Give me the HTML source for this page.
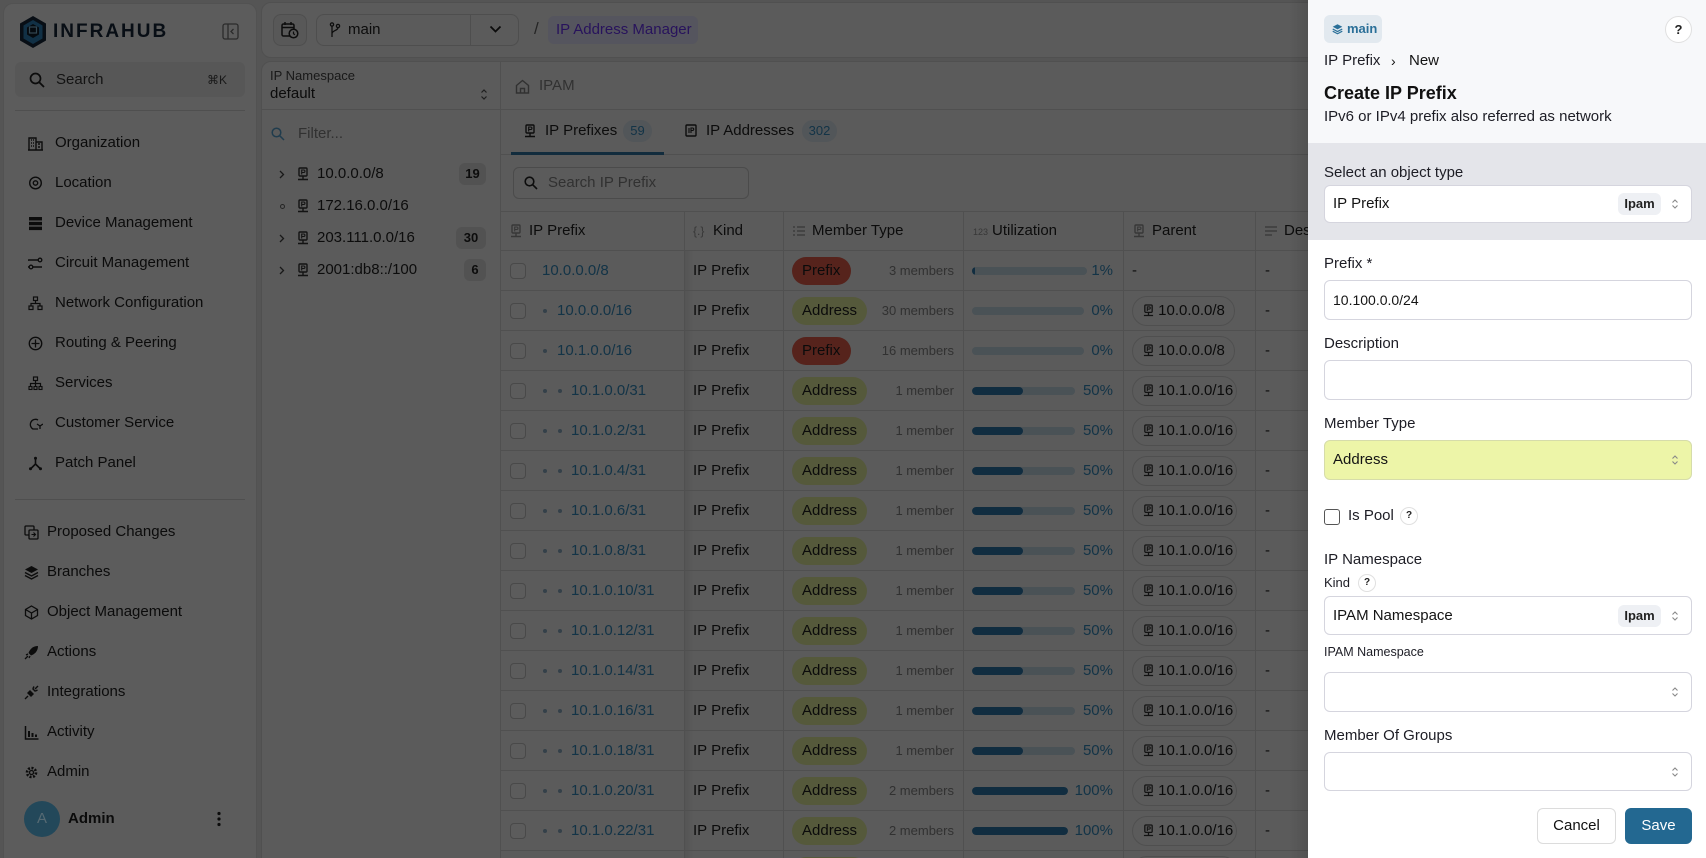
<!DOCTYPE html>
<html><head><meta charset="utf-8">
<style>
*{box-sizing:border-box;margin:0;padding:0}
html,body{width:1706px;height:858px;overflow:hidden}
body{background:#8d8d8d;font-family:"Liberation Sans",sans-serif;color:#141414;font-size:15px}
#root{position:relative;width:1706px;height:858px;overflow:hidden;background:#8d8d8d}
#bg{position:absolute;left:0;top:0;width:1706px;height:858px;overflow:hidden;background:#8d8d8d;filter:brightness(0.6)}
.a{position:absolute}
.t{position:absolute;white-space:nowrap;line-height:20px}
.nav{position:absolute;left:55px;white-space:nowrap;line-height:20px;font-size:15px;color:#121212}
.ico{position:absolute;width:15px;height:15px}
.row{position:absolute;left:501px;width:900px;height:40px;border-bottom:1px solid #858585}
.row .t{top:10px}
.cb{position:absolute;left:9px;top:12px;width:16px;height:16px;border:1.5px solid #797979;border-radius:4px;background:#999}
.dot{position:absolute;top:18px;width:4px;height:4px;border-radius:50%;background:#566b7a}
.pf{color:#205676}
.mb{position:absolute;left:291px;top:6px;height:28px;line-height:28px;border-radius:14px;padding:0 10px;font-size:15px;color:#121212}
.P{background:#8f3a2f;width:59px}
.A{background:#8d9462;width:75px}
.mem{position:absolute;font-size:13px;color:#525252}
.bar{position:absolute;left:471px;top:16px;height:8px;border-radius:4px;background:#7b8890;overflow:hidden}
.bar i{position:absolute;left:0;top:0;bottom:0;background:#1d4b6a;border-radius:4px}
.pct{position:absolute;color:#205676;text-align:right;width:60px;left:552px;top:10px;line-height:20px}
.par{position:absolute;left:631px;top:5px;height:30px;border:1px solid #848484;border-radius:15px;background:#989898;line-height:28px;padding-left:10px;white-space:nowrap;color:#121212}
.vl{position:absolute;top:211px;height:647px;width:1px;background:#858585}
.lbl{position:absolute;left:1324px;white-space:nowrap;line-height:20px;font-size:15px;color:#1d1d25}
.inp{position:absolute;left:1324px;width:368px;border:1px solid #d5d5de;border-radius:6px;background:#fff}
.chev{position:absolute;right:12px;top:50%;margin-top:-6px}
.ipam{position:absolute;left:293px;width:43px;height:22px;border-radius:6px;background:#eef0f4;font-size:13px;font-weight:bold;line-height:22px;text-align:center;color:#222}
.q{position:absolute;border:1px solid #e0e0e0;border-radius:50%;background:#fff;text-align:center;font-weight:bold;color:#222}
.tb{position:absolute;border-radius:6px;background:#898989;font-size:13px;font-weight:bold;line-height:22px;text-align:center;height:22px;color:#141414}
</style></head>
<body><div id="root">
<div id="bg">

<!-- SIDEBAR -->
<div class="a" style="left:3px;top:3px;width:254px;height:870px;background:#999;border:1px solid #888;border-radius:10px"></div>
<svg class="a" style="left:19px;top:15px" width="28" height="34" viewBox="0 0 28 34"><path d="M14 1L27 8.5v17L14 33 1 25.5v-17z" fill="#0d1723"/><path d="M14 5L23.5 10.5v13L14 29 4.5 23.5v-13z" fill="#1c5073"/><path d="M14 9l6 3.5v7L14 23l-6-3.5v-7z" fill="#091019"/><rect x="10.5" y="12" width="7" height="6" fill="none" stroke="#547788" stroke-width="1.2"/></svg>
<div class="t" style="left:53px;top:20px;font-size:19px;font-weight:bold;letter-spacing:2px;color:#0e1723;line-height:24px">INFRAHUB</div>
<svg class="a" style="left:222px;top:23px" width="17" height="17" viewBox="0 0 17 17"><rect x="1" y="1" width="15" height="15" rx="2" fill="none" stroke="#474747" stroke-width="1.3"/><path d="M6 1v15" stroke="#474747" stroke-width="1.3"/><path d="M11.5 6l-2.5 2.5 2.5 2.5" fill="none" stroke="#474747" stroke-width="1.3"/></svg>
<div class="a" style="left:15px;top:62px;width:230px;height:35px;background:#919191;border-radius:6px"></div>
<svg class="a" style="left:29px;top:72px" width="16" height="16" viewBox="0 0 16 16"><circle cx="6.5" cy="6.5" r="5" fill="none" stroke="#141414" stroke-width="1.7"/><path d="M10.2 10.2L15 15" stroke="#141414" stroke-width="1.8"/></svg>
<div class="t" style="left:56px;top:70px;color:#1f1f1f">Search</div>
<div class="t" style="left:207px;top:70px;font-size:12px;color:#292929">⌘K</div>
<div class="a" style="left:15px;top:110px;width:230px;height:1px;background:#848484"></div>

<svg class="ico" style="left:28px;top:136px" viewBox="0 0 15 15"><path d="M1 14V2h7v12M8 6h6v8M0 14h15M3 4h1M5 4h1M3 7h1M5 7h1M3 10h1M5 10h1M10 8h2M10 11h2" stroke="#141414" stroke-width="1.4" fill="none"/></svg>
<div class="nav" style="top:133px">Organization</div>
<svg class="ico" style="left:28px;top:176px" viewBox="0 0 15 15"><circle cx="7.5" cy="7" r="5.8" fill="none" stroke="#141414" stroke-width="1.4"/><circle cx="7.5" cy="7" r="2.2" fill="none" stroke="#141414" stroke-width="1.4"/></svg>
<div class="nav" style="top:173px">Location</div>
<svg class="ico" style="left:28px;top:216px" viewBox="0 0 15 15"><rect x="1" y="1" width="13" height="3.5" fill="#141414"/><rect x="1" y="5.8" width="13" height="3.5" fill="#141414"/><rect x="1" y="10.6" width="13" height="3.5" fill="#141414"/></svg>
<div class="nav" style="top:213px">Device Management</div>
<svg class="ico" style="left:28px;top:256px" viewBox="0 0 15 15"><path d="M1 4h10M4 11h10M1 4a3 3 0 000 7" stroke="#141414" stroke-width="1.5" fill="none"/><circle cx="12" cy="4" r="1.8" fill="none" stroke="#141414" stroke-width="1.3"/><circle cx="3" cy="11" r="1.8" fill="none" stroke="#141414" stroke-width="1.3"/></svg>
<div class="nav" style="top:253px">Circuit Management</div>
<svg class="ico" style="left:28px;top:296px" viewBox="0 0 15 15"><rect x="5.5" y="1" width="4" height="3.5" fill="none" stroke="#141414" stroke-width="1.2"/><rect x="1" y="10" width="4" height="3.5" fill="none" stroke="#141414" stroke-width="1.2"/><rect x="10" y="10" width="4" height="3.5" fill="none" stroke="#141414" stroke-width="1.2"/><path d="M7.5 4.5v3M3 10V7.5h9V10" stroke="#141414" stroke-width="1.2" fill="none"/></svg>
<div class="nav" style="top:293px">Network Configuration</div>
<svg class="ico" style="left:28px;top:336px" viewBox="0 0 15 15"><circle cx="7.5" cy="7.5" r="6.2" fill="none" stroke="#141414" stroke-width="1.4"/><path d="M7.5 3.5v8M3.5 7.5h8" stroke="#141414" stroke-width="1.3"/></svg>
<div class="nav" style="top:333px">Routing &amp; Peering</div>
<svg class="ico" style="left:28px;top:376px" viewBox="0 0 15 15"><rect x="5.5" y="1" width="4" height="3.5" fill="none" stroke="#141414" stroke-width="1.2"/><path d="M7.5 4.5v3M2.5 10V7.5h10V10M7.5 7.5V10" stroke="#141414" stroke-width="1.2" fill="none"/><rect x="1" y="10.5" width="3" height="3" fill="none" stroke="#141414" stroke-width="1.1"/><rect x="6" y="10.5" width="3" height="3" fill="none" stroke="#141414" stroke-width="1.1"/><rect x="11" y="10.5" width="3" height="3" fill="none" stroke="#141414" stroke-width="1.1"/></svg>
<div class="nav" style="top:373px">Services</div>
<svg class="ico" style="left:28px;top:416px" viewBox="0 0 15 15"><path d="M10 4a5 5 0 10-5 9h5M9 8l3 2 3-2M12 10v3" stroke="#141414" stroke-width="1.3" fill="none"/></svg>
<div class="nav" style="top:413px">Customer Service</div>
<svg class="ico" style="left:28px;top:456px" viewBox="0 0 15 15"><path d="M7.5 2v6L2.5 13M7.5 8l5 5" stroke="#141414" stroke-width="1.6" fill="none"/><circle cx="7.5" cy="2.3" r="1.5" fill="#141414"/><circle cx="2.5" cy="12.8" r="1.5" fill="#141414"/><circle cx="12.5" cy="12.8" r="1.5" fill="#141414"/></svg>
<div class="nav" style="top:453px">Patch Panel</div>

<div class="a" style="left:15px;top:499px;width:230px;height:1px;background:#848484"></div>

<svg class="ico" style="left:24px;top:525px" viewBox="0 0 15 15"><rect x="1" y="1" width="9" height="9" rx="1" fill="none" stroke="#141414" stroke-width="1.3"/><rect x="5" y="5" width="9" height="9" rx="1" fill="#999" stroke="#141414" stroke-width="1.3"/><path d="M7.5 9.5h4M9.5 7.5l2 2-2 2" stroke="#141414" stroke-width="1.1" fill="none"/></svg>
<div class="nav" style="left:47px;top:522px">Proposed Changes</div>
<svg class="ico" style="left:24px;top:565px" viewBox="0 0 15 15"><path d="M7.5 1L14 4.5 7.5 8 1 4.5z" fill="#141414"/><path d="M1 7.5l6.5 3.5L14 7.5M1 10.5L7.5 14 14 10.5" stroke="#141414" stroke-width="1.4" fill="none"/></svg>
<div class="nav" style="left:47px;top:562px">Branches</div>
<svg class="ico" style="left:24px;top:605px" viewBox="0 0 15 15"><path d="M7.5 1L13.5 4.5v6L7.5 14 1.5 10.5v-6zM1.5 4.5l6 3.5 6-3.5M7.5 8v6" stroke="#141414" stroke-width="1.3" fill="none"/></svg>
<div class="nav" style="left:47px;top:602px">Object Management</div>
<svg class="ico" style="left:24px;top:645px" viewBox="0 0 15 15"><path d="M14 1c-5 0-8 3-9.5 7l2.5 2.5C11 9 14 6 14 1z" fill="#141414"/><path d="M1 14l3-3M2 10l2-1M5 13l1-2" stroke="#141414" stroke-width="1.3"/></svg>
<div class="nav" style="left:47px;top:642px">Actions</div>
<svg class="ico" style="left:24px;top:685px" viewBox="0 0 15 15"><path d="M6 5l4 4-3 3-4-4z" fill="#141414"/><path d="M1 14l3-3M11 4l3-3M8.5 3.5l3 3M10 1.5l-1 2M13.5 5l-2 1" stroke="#141414" stroke-width="1.4"/></svg>
<div class="nav" style="left:47px;top:682px">Integrations</div>
<svg class="ico" style="left:24px;top:725px" viewBox="0 0 15 15"><path d="M1.5 1v13h13" stroke="#141414" stroke-width="1.5" fill="none"/><rect x="4" y="6" width="2" height="6" fill="#141414"/><rect x="7.5" y="8" width="2" height="4" fill="#141414"/><rect x="11" y="9.5" width="2" height="2.5" fill="#141414"/></svg>
<div class="nav" style="left:47px;top:722px">Activity</div>
<svg class="ico" style="left:24px;top:765px" viewBox="0 0 15 15"><circle cx="7.5" cy="7.5" r="4.5" fill="none" stroke="#141414" stroke-width="2.6" stroke-dasharray="2 1.5"/><circle cx="7.5" cy="7.5" r="2" fill="none" stroke="#141414" stroke-width="1.3"/></svg>
<div class="nav" style="left:47px;top:762px">Admin</div>

<div class="a" style="left:24px;top:801px;width:36px;height:36px;border-radius:50%;background:#3a7896;color:#8fb0bf;text-align:center;line-height:36px;font-size:15px">A</div>
<div class="t" style="left:68px;top:809px;font-weight:bold;color:#121212">Admin</div>
<svg class="a" style="left:216px;top:811px" width="6" height="16" viewBox="0 0 6 16"><circle cx="3" cy="2.5" r="1.6" fill="#141414"/><circle cx="3" cy="8" r="1.6" fill="#141414"/><circle cx="3" cy="13.5" r="1.6" fill="#141414"/></svg>

<!-- TOP BAR -->
<div class="a" style="left:261px;top:2px;width:1500px;height:56px;background:#979797;border:1px solid #868686;border-radius:10px"></div>
<div class="a" style="left:273px;top:14px;width:34px;height:32px;border:1px solid #828282;border-radius:8px;background:#929292"></div>
<svg class="a" style="left:281px;top:21px" width="18" height="18" viewBox="0 0 18 18"><rect x="1" y="3" width="12" height="12" rx="1.5" fill="none" stroke="#141414" stroke-width="1.5"/><path d="M1 6.5h12M4 1v3M10 1v3" stroke="#141414" stroke-width="1.5"/><circle cx="12.5" cy="12.5" r="4.3" fill="#929292" stroke="#141414" stroke-width="1.5"/><path d="M12.5 10.5v2.2l1.4 1" stroke="#141414" stroke-width="1.2" fill="none"/></svg>
<div class="a" style="left:316px;top:14px;width:203px;height:32px;border:1px solid #828282;border-radius:8px;background:#979797"></div>
<div class="a" style="left:470px;top:14px;width:1px;height:32px;background:#828282"></div>
<svg class="a" style="left:329px;top:22px" width="12" height="16" viewBox="0 0 12 16"><circle cx="3" cy="2.5" r="1.6" fill="none" stroke="#141414" stroke-width="1.3"/><circle cx="9" cy="4" r="1.6" fill="none" stroke="#141414" stroke-width="1.3"/><path d="M3 4v11M9 5.6c0 3-6 3-6 6" stroke="#141414" stroke-width="1.3" fill="none"/></svg>
<div class="t" style="left:348px;top:20px;font-size:15px">main</div>
<svg class="a" style="left:489px;top:25px" width="13" height="9" viewBox="0 0 13 9"><path d="M1.5 1.5l5 5 5-5" stroke="#141414" stroke-width="1.8" fill="none"/></svg>
<div class="t" style="left:534px;top:19px;color:#3d3d3d;font-size:17px">/</div>
<div class="a" style="left:548px;top:16px;width:150px;height:28px;border-radius:6px;background:#8e8e9c"></div>
<div class="t" style="left:556px;top:20px;color:#43209a;font-size:15px">IP Address Manager</div>

<!-- CONTENT PANEL -->
<div class="a" style="left:261px;top:61px;width:1500px;height:820px;background:#979797;border:1px solid #858585;border-radius:10px"></div>
<div class="a" style="left:500px;top:61px;width:1px;height:800px;background:#858585"></div>
<div class="a" style="left:261px;top:109px;width:1200px;height:1px;background:#858585"></div>

<!-- tree -->
<div class="t" style="left:270px;top:66px;font-size:13px;color:#292929">IP Namespace</div>
<div class="t" style="left:270px;top:84px;font-size:15px;color:#121212">default</div>
<svg class="a" style="left:480px;top:88px" width="8" height="13" viewBox="0 0 8 13"><path d="M1.5 4.5L4 2l2.5 2.5M1.5 8.5L4 11l2.5-2.5" fill="none" stroke="#333" stroke-width="1.2"/></svg>
<svg class="a" style="left:271px;top:127px" width="14" height="14" viewBox="0 0 14 14"><circle cx="5.5" cy="5.5" r="4.3" fill="none" stroke="#366480" stroke-width="1.5"/><path d="M8.8 8.8L13 13" stroke="#366480" stroke-width="1.5"/></svg>
<div class="t" style="left:298px;top:124px;color:#525252">Filter...</div>

<svg class="a" style="left:279px;top:170px" width="6" height="9" viewBox="0 0 6 9"><path d="M1 1l3.5 3.5L1 8" stroke="#292929" stroke-width="1.3" fill="none"/></svg>
<div class="a" style="left:297px;top:167px;color:#1f1f1f"><svg width="12" height="14" viewBox="0 0 12 14"><rect x="2" y="1" width="8" height="8" rx="1" fill="none" stroke="currentColor" stroke-width="1.4"/><path d="M4.7 7.5V3h2a1.2 1.2 0 010 2.5h-2" fill="none" stroke="currentColor" stroke-width="1.1"/><path d="M6 9v3M1 12.5h10" stroke="currentColor" stroke-width="1.4"/></svg></div>
<div class="t" style="left:317px;top:164px">10.0.0.0/8</div>
<div class="tb" style="left:459px;top:163px;width:27px">19</div>

<div class="a" style="left:280px;top:204px;width:5px;height:5px;border:1.2px solid #3d3d3d;border-radius:50%"></div>
<div class="a" style="left:297px;top:199px;color:#1f1f1f"><svg width="12" height="14" viewBox="0 0 12 14"><rect x="2" y="1" width="8" height="8" rx="1" fill="none" stroke="currentColor" stroke-width="1.4"/><path d="M4.7 7.5V3h2a1.2 1.2 0 010 2.5h-2" fill="none" stroke="currentColor" stroke-width="1.1"/><path d="M6 9v3M1 12.5h10" stroke="currentColor" stroke-width="1.4"/></svg></div>
<div class="t" style="left:317px;top:196px">172.16.0.0/16</div>

<svg class="a" style="left:279px;top:234px" width="6" height="9" viewBox="0 0 6 9"><path d="M1 1l3.5 3.5L1 8" stroke="#292929" stroke-width="1.3" fill="none"/></svg>
<div class="a" style="left:297px;top:231px;color:#1f1f1f"><svg width="12" height="14" viewBox="0 0 12 14"><rect x="2" y="1" width="8" height="8" rx="1" fill="none" stroke="currentColor" stroke-width="1.4"/><path d="M4.7 7.5V3h2a1.2 1.2 0 010 2.5h-2" fill="none" stroke="currentColor" stroke-width="1.1"/><path d="M6 9v3M1 12.5h10" stroke="currentColor" stroke-width="1.4"/></svg></div>
<div class="t" style="left:317px;top:228px">203.111.0.0/16</div>
<div class="tb" style="left:456px;top:227px;width:30px">30</div>

<svg class="a" style="left:279px;top:266px" width="6" height="9" viewBox="0 0 6 9"><path d="M1 1l3.5 3.5L1 8" stroke="#292929" stroke-width="1.3" fill="none"/></svg>
<div class="a" style="left:297px;top:263px;color:#1f1f1f"><svg width="12" height="14" viewBox="0 0 12 14"><rect x="2" y="1" width="8" height="8" rx="1" fill="none" stroke="currentColor" stroke-width="1.4"/><path d="M4.7 7.5V3h2a1.2 1.2 0 010 2.5h-2" fill="none" stroke="currentColor" stroke-width="1.1"/><path d="M6 9v3M1 12.5h10" stroke="currentColor" stroke-width="1.4"/></svg></div>
<div class="t" style="left:317px;top:260px">2001:db8::/100</div>
<div class="tb" style="left:464px;top:259px;width:22px">6</div>

<!-- breadcrumb + tabs -->
<svg class="a" style="left:515px;top:79px" width="15" height="15" viewBox="0 0 15 15"><path d="M1.5 6.5L7.5 1.5l6 5V14h-12z" fill="none" stroke="#525252" stroke-width="1.4"/><path d="M5.5 14V9.5h4V14" fill="none" stroke="#525252" stroke-width="1.4"/></svg>
<div class="t" style="left:539px;top:76px;color:#525252">IPAM</div>
<div class="a" style="left:501px;top:154px;width:1000px;height:1px;background:#858585"></div>
<div class="a" style="left:524px;top:124px;color:#141414"><svg width="12" height="14" viewBox="0 0 12 14"><rect x="2" y="1" width="8" height="8" rx="1" fill="none" stroke="currentColor" stroke-width="1.4"/><path d="M4.7 7.5V3h2a1.2 1.2 0 010 2.5h-2" fill="none" stroke="currentColor" stroke-width="1.1"/><path d="M6 9v3M1 12.5h10" stroke="currentColor" stroke-width="1.4"/></svg></div>
<div class="t" style="left:545px;top:121px">IP Prefixes</div>
<div class="a" style="left:623px;top:120px;width:29px;height:22px;border-radius:11px;background:#888f94;color:#205676;font-size:13px;line-height:22px;text-align:center">59</div>
<div class="a" style="left:511px;top:152px;width:153px;height:3px;background:#1e4966"></div>
<svg class="a" style="left:685px;top:124px" width="12" height="13" viewBox="0 0 12 13"><rect x="1" y="1" width="10" height="11" rx="1" fill="none" stroke="#141414" stroke-width="1.4"/><path d="M4 4v5M6 9V4h1.5a1.2 1.2 0 010 2.5H6" stroke="#141414" stroke-width="1.1" fill="none"/></svg>
<div class="t" style="left:706px;top:121px">IP Addresses</div>
<div class="a" style="left:802px;top:120px;width:35px;height:22px;border-radius:11px;background:#888f94;color:#205676;font-size:13px;line-height:22px;text-align:center">302</div>

<div class="a" style="left:513px;top:167px;width:236px;height:32px;border:1px solid #7d7d7d;border-radius:6px;background:#979797"></div>
<svg class="a" style="left:524px;top:176px" width="14" height="14" viewBox="0 0 14 14"><circle cx="5.5" cy="5.5" r="4.3" fill="none" stroke="#141414" stroke-width="1.6"/><path d="M8.8 8.8L13 13" stroke="#141414" stroke-width="1.6"/></svg>
<div class="t" style="left:548px;top:173px;color:#525252">Search IP Prefix</div>

<!-- table header -->
<div class="a" style="left:501px;top:211px;width:1000px;height:1px;background:#858585"></div>
<div class="a" style="left:501px;top:250px;width:1000px;height:1px;background:#858585"></div>
<div class="vl" style="left:684px"></div>
<div class="vl" style="left:783px"></div>
<div class="vl" style="left:963px"></div>
<div class="vl" style="left:1123px"></div>
<div class="vl" style="left:1255px"></div>
<div class="a" style="left:685px;top:251px;width:8px;height:607px;background:linear-gradient(to right,rgba(0,0,0,0.07),rgba(0,0,0,0))"></div>

<div class="a" style="left:510px;top:224px;color:#5c5c5c"><svg width="12" height="14" viewBox="0 0 12 14"><rect x="2" y="1" width="8" height="8" rx="1" fill="none" stroke="currentColor" stroke-width="1.4"/><path d="M4.7 7.5V3h2a1.2 1.2 0 010 2.5h-2" fill="none" stroke="currentColor" stroke-width="1.1"/><path d="M6 9v3M1 12.5h10" stroke="currentColor" stroke-width="1.4"/></svg></div>
<div class="t" style="left:529px;top:221px">IP Prefix</div>
<div class="t" style="left:693px;top:221px;color:#5c5c5c;font-size:12px">{.}</div>
<div class="t" style="left:713px;top:221px">Kind</div>
<svg class="a" style="left:793px;top:226px" width="12" height="10" viewBox="0 0 12 10"><path d="M0 1h2M0 5h2M0 9h2M4 1h8M4 5h8M4 9h8" stroke="#5c5c5c" stroke-width="1.3"/></svg>
<div class="t" style="left:812px;top:221px">Member Type</div>
<div class="t" style="left:973px;top:222px;color:#5c5c5c;font-size:9px">123</div>
<div class="t" style="left:992px;top:221px">Utilization</div>
<div class="a" style="left:1133px;top:224px;color:#5c5c5c"><svg width="12" height="14" viewBox="0 0 12 14"><rect x="2" y="1" width="8" height="8" rx="1" fill="none" stroke="currentColor" stroke-width="1.4"/><path d="M4.7 7.5V3h2a1.2 1.2 0 010 2.5h-2" fill="none" stroke="currentColor" stroke-width="1.1"/><path d="M6 9v3M1 12.5h10" stroke="currentColor" stroke-width="1.4"/></svg></div>
<div class="t" style="left:1152px;top:221px">Parent</div>
<svg class="a" style="left:1265px;top:226px" width="12" height="10" viewBox="0 0 12 10"><path d="M0 1h12M0 5h12M0 9h7" stroke="#5c5c5c" stroke-width="1.3"/></svg>
<div class="t" style="left:1284px;top:221px">Description</div>

<!-- rows -->
<div class="row" style="top:251px"><div class="cb"></div><span class="t pf" style="left:41px">10.0.0.0/8</span><span class="t" style="left:192px">IP Prefix</span><span class="mb P">Prefix</span><span class="t mem" style="left:360px;width:93px;text-align:right">3 members</span><div class="bar" style="width:115px"><i style="width:3px"></i></div><span class="pct">1%</span><span class="t" style="left:631px">-</span><span class="t" style="left:764px">-</span></div>

<div class="row" style="top:291px"><div class="cb"></div><span class="dot" style="left:42px"></span><span class="t pf" style="left:56px">10.0.0.0/16</span><span class="t" style="left:192px">IP Prefix</span><span class="mb A">Address</span><span class="t mem" style="left:360px;width:93px;text-align:right">30 members</span><div class="bar" style="width:112px"></div><span class="pct">0%</span><span class="par" style="width:103px"><svg width="11" height="13" viewBox="0 0 12 14" style="vertical-align:-2px;color:#1f1f1f"><rect x="2" y="1" width="8" height="8" rx="1" fill="none" stroke="currentColor" stroke-width="1.4"/><path d="M4.7 7.5V3h2a1.2 1.2 0 010 2.5h-2" fill="none" stroke="currentColor" stroke-width="1.1"/><path d="M6 9v3M1 12.5h10" stroke="currentColor" stroke-width="1.4"/></svg> 10.0.0.0/8</span><span class="t" style="left:764px">-</span></div>

<div class="row" style="top:331px"><div class="cb"></div><span class="dot" style="left:42px"></span><span class="t pf" style="left:56px">10.1.0.0/16</span><span class="t" style="left:192px">IP Prefix</span><span class="mb P">Prefix</span><span class="t mem" style="left:360px;width:93px;text-align:right">16 members</span><div class="bar" style="width:112px"></div><span class="pct">0%</span><span class="par" style="width:103px"><svg width="11" height="13" viewBox="0 0 12 14" style="vertical-align:-2px;color:#1f1f1f"><rect x="2" y="1" width="8" height="8" rx="1" fill="none" stroke="currentColor" stroke-width="1.4"/><path d="M4.7 7.5V3h2a1.2 1.2 0 010 2.5h-2" fill="none" stroke="currentColor" stroke-width="1.1"/><path d="M6 9v3M1 12.5h10" stroke="currentColor" stroke-width="1.4"/></svg> 10.0.0.0/8</span><span class="t" style="left:764px">-</span></div>

<div class="row" style="top:371px"><div class="cb"></div><span class="dot" style="left:42px"></span><span class="dot" style="left:57px"></span><span class="t pf" style="left:70px">10.1.0.0/31</span><span class="t" style="left:192px">IP Prefix</span><span class="mb A">Address</span><span class="t mem" style="left:360px;width:93px;text-align:right">1 member</span><div class="bar" style="width:103px"><i style="width:51px"></i></div><span class="pct">50%</span><span class="par" style="width:105px"><svg width="11" height="13" viewBox="0 0 12 14" style="vertical-align:-2px;color:#1f1f1f"><rect x="2" y="1" width="8" height="8" rx="1" fill="none" stroke="currentColor" stroke-width="1.4"/><path d="M4.7 7.5V3h2a1.2 1.2 0 010 2.5h-2" fill="none" stroke="currentColor" stroke-width="1.1"/><path d="M6 9v3M1 12.5h10" stroke="currentColor" stroke-width="1.4"/></svg> 10.1.0.0/16</span><span class="t" style="left:764px">-</span></div>

<div class="row" style="top:411px"><div class="cb"></div><span class="dot" style="left:42px"></span><span class="dot" style="left:57px"></span><span class="t pf" style="left:70px">10.1.0.2/31</span><span class="t" style="left:192px">IP Prefix</span><span class="mb A">Address</span><span class="t mem" style="left:360px;width:93px;text-align:right">1 member</span><div class="bar" style="width:103px"><i style="width:51px"></i></div><span class="pct">50%</span><span class="par" style="width:105px"><svg width="11" height="13" viewBox="0 0 12 14" style="vertical-align:-2px;color:#1f1f1f"><rect x="2" y="1" width="8" height="8" rx="1" fill="none" stroke="currentColor" stroke-width="1.4"/><path d="M4.7 7.5V3h2a1.2 1.2 0 010 2.5h-2" fill="none" stroke="currentColor" stroke-width="1.1"/><path d="M6 9v3M1 12.5h10" stroke="currentColor" stroke-width="1.4"/></svg> 10.1.0.0/16</span><span class="t" style="left:764px">-</span></div>

<div class="row" style="top:451px"><div class="cb"></div><span class="dot" style="left:42px"></span><span class="dot" style="left:57px"></span><span class="t pf" style="left:70px">10.1.0.4/31</span><span class="t" style="left:192px">IP Prefix</span><span class="mb A">Address</span><span class="t mem" style="left:360px;width:93px;text-align:right">1 member</span><div class="bar" style="width:103px"><i style="width:51px"></i></div><span class="pct">50%</span><span class="par" style="width:105px"><svg width="11" height="13" viewBox="0 0 12 14" style="vertical-align:-2px;color:#1f1f1f"><rect x="2" y="1" width="8" height="8" rx="1" fill="none" stroke="currentColor" stroke-width="1.4"/><path d="M4.7 7.5V3h2a1.2 1.2 0 010 2.5h-2" fill="none" stroke="currentColor" stroke-width="1.1"/><path d="M6 9v3M1 12.5h10" stroke="currentColor" stroke-width="1.4"/></svg> 10.1.0.0/16</span><span class="t" style="left:764px">-</span></div>

<div class="row" style="top:491px"><div class="cb"></div><span class="dot" style="left:42px"></span><span class="dot" style="left:57px"></span><span class="t pf" style="left:70px">10.1.0.6/31</span><span class="t" style="left:192px">IP Prefix</span><span class="mb A">Address</span><span class="t mem" style="left:360px;width:93px;text-align:right">1 member</span><div class="bar" style="width:103px"><i style="width:51px"></i></div><span class="pct">50%</span><span class="par" style="width:105px"><svg width="11" height="13" viewBox="0 0 12 14" style="vertical-align:-2px;color:#1f1f1f"><rect x="2" y="1" width="8" height="8" rx="1" fill="none" stroke="currentColor" stroke-width="1.4"/><path d="M4.7 7.5V3h2a1.2 1.2 0 010 2.5h-2" fill="none" stroke="currentColor" stroke-width="1.1"/><path d="M6 9v3M1 12.5h10" stroke="currentColor" stroke-width="1.4"/></svg> 10.1.0.0/16</span><span class="t" style="left:764px">-</span></div>

<div class="row" style="top:531px"><div class="cb"></div><span class="dot" style="left:42px"></span><span class="dot" style="left:57px"></span><span class="t pf" style="left:70px">10.1.0.8/31</span><span class="t" style="left:192px">IP Prefix</span><span class="mb A">Address</span><span class="t mem" style="left:360px;width:93px;text-align:right">1 member</span><div class="bar" style="width:103px"><i style="width:51px"></i></div><span class="pct">50%</span><span class="par" style="width:105px"><svg width="11" height="13" viewBox="0 0 12 14" style="vertical-align:-2px;color:#1f1f1f"><rect x="2" y="1" width="8" height="8" rx="1" fill="none" stroke="currentColor" stroke-width="1.4"/><path d="M4.7 7.5V3h2a1.2 1.2 0 010 2.5h-2" fill="none" stroke="currentColor" stroke-width="1.1"/><path d="M6 9v3M1 12.5h10" stroke="currentColor" stroke-width="1.4"/></svg> 10.1.0.0/16</span><span class="t" style="left:764px">-</span></div>

<div class="row" style="top:571px"><div class="cb"></div><span class="dot" style="left:42px"></span><span class="dot" style="left:57px"></span><span class="t pf" style="left:70px">10.1.0.10/31</span><span class="t" style="left:192px">IP Prefix</span><span class="mb A">Address</span><span class="t mem" style="left:360px;width:93px;text-align:right">1 member</span><div class="bar" style="width:103px"><i style="width:51px"></i></div><span class="pct">50%</span><span class="par" style="width:105px"><svg width="11" height="13" viewBox="0 0 12 14" style="vertical-align:-2px;color:#1f1f1f"><rect x="2" y="1" width="8" height="8" rx="1" fill="none" stroke="currentColor" stroke-width="1.4"/><path d="M4.7 7.5V3h2a1.2 1.2 0 010 2.5h-2" fill="none" stroke="currentColor" stroke-width="1.1"/><path d="M6 9v3M1 12.5h10" stroke="currentColor" stroke-width="1.4"/></svg> 10.1.0.0/16</span><span class="t" style="left:764px">-</span></div>

<div class="row" style="top:611px"><div class="cb"></div><span class="dot" style="left:42px"></span><span class="dot" style="left:57px"></span><span class="t pf" style="left:70px">10.1.0.12/31</span><span class="t" style="left:192px">IP Prefix</span><span class="mb A">Address</span><span class="t mem" style="left:360px;width:93px;text-align:right">1 member</span><div class="bar" style="width:103px"><i style="width:51px"></i></div><span class="pct">50%</span><span class="par" style="width:105px"><svg width="11" height="13" viewBox="0 0 12 14" style="vertical-align:-2px;color:#1f1f1f"><rect x="2" y="1" width="8" height="8" rx="1" fill="none" stroke="currentColor" stroke-width="1.4"/><path d="M4.7 7.5V3h2a1.2 1.2 0 010 2.5h-2" fill="none" stroke="currentColor" stroke-width="1.1"/><path d="M6 9v3M1 12.5h10" stroke="currentColor" stroke-width="1.4"/></svg> 10.1.0.0/16</span><span class="t" style="left:764px">-</span></div>

<div class="row" style="top:651px"><div class="cb"></div><span class="dot" style="left:42px"></span><span class="dot" style="left:57px"></span><span class="t pf" style="left:70px">10.1.0.14/31</span><span class="t" style="left:192px">IP Prefix</span><span class="mb A">Address</span><span class="t mem" style="left:360px;width:93px;text-align:right">1 member</span><div class="bar" style="width:103px"><i style="width:51px"></i></div><span class="pct">50%</span><span class="par" style="width:105px"><svg width="11" height="13" viewBox="0 0 12 14" style="vertical-align:-2px;color:#1f1f1f"><rect x="2" y="1" width="8" height="8" rx="1" fill="none" stroke="currentColor" stroke-width="1.4"/><path d="M4.7 7.5V3h2a1.2 1.2 0 010 2.5h-2" fill="none" stroke="currentColor" stroke-width="1.1"/><path d="M6 9v3M1 12.5h10" stroke="currentColor" stroke-width="1.4"/></svg> 10.1.0.0/16</span><span class="t" style="left:764px">-</span></div>

<div class="row" style="top:691px"><div class="cb"></div><span class="dot" style="left:42px"></span><span class="dot" style="left:57px"></span><span class="t pf" style="left:70px">10.1.0.16/31</span><span class="t" style="left:192px">IP Prefix</span><span class="mb A">Address</span><span class="t mem" style="left:360px;width:93px;text-align:right">1 member</span><div class="bar" style="width:103px"><i style="width:51px"></i></div><span class="pct">50%</span><span class="par" style="width:105px"><svg width="11" height="13" viewBox="0 0 12 14" style="vertical-align:-2px;color:#1f1f1f"><rect x="2" y="1" width="8" height="8" rx="1" fill="none" stroke="currentColor" stroke-width="1.4"/><path d="M4.7 7.5V3h2a1.2 1.2 0 010 2.5h-2" fill="none" stroke="currentColor" stroke-width="1.1"/><path d="M6 9v3M1 12.5h10" stroke="currentColor" stroke-width="1.4"/></svg> 10.1.0.0/16</span><span class="t" style="left:764px">-</span></div>

<div class="row" style="top:731px"><div class="cb"></div><span class="dot" style="left:42px"></span><span class="dot" style="left:57px"></span><span class="t pf" style="left:70px">10.1.0.18/31</span><span class="t" style="left:192px">IP Prefix</span><span class="mb A">Address</span><span class="t mem" style="left:360px;width:93px;text-align:right">1 member</span><div class="bar" style="width:103px"><i style="width:51px"></i></div><span class="pct">50%</span><span class="par" style="width:105px"><svg width="11" height="13" viewBox="0 0 12 14" style="vertical-align:-2px;color:#1f1f1f"><rect x="2" y="1" width="8" height="8" rx="1" fill="none" stroke="currentColor" stroke-width="1.4"/><path d="M4.7 7.5V3h2a1.2 1.2 0 010 2.5h-2" fill="none" stroke="currentColor" stroke-width="1.1"/><path d="M6 9v3M1 12.5h10" stroke="currentColor" stroke-width="1.4"/></svg> 10.1.0.0/16</span><span class="t" style="left:764px">-</span></div>

<div class="row" style="top:771px"><div class="cb"></div><span class="dot" style="left:42px"></span><span class="dot" style="left:57px"></span><span class="t pf" style="left:70px">10.1.0.20/31</span><span class="t" style="left:192px">IP Prefix</span><span class="mb A">Address</span><span class="t mem" style="left:360px;width:93px;text-align:right">2 members</span><div class="bar" style="width:96px"><i style="width:96px"></i></div><span class="pct">100%</span><span class="par" style="width:105px"><svg width="11" height="13" viewBox="0 0 12 14" style="vertical-align:-2px;color:#1f1f1f"><rect x="2" y="1" width="8" height="8" rx="1" fill="none" stroke="currentColor" stroke-width="1.4"/><path d="M4.7 7.5V3h2a1.2 1.2 0 010 2.5h-2" fill="none" stroke="currentColor" stroke-width="1.1"/><path d="M6 9v3M1 12.5h10" stroke="currentColor" stroke-width="1.4"/></svg> 10.1.0.0/16</span><span class="t" style="left:764px">-</span></div>

<div class="row" style="top:811px"><div class="cb"></div><span class="dot" style="left:42px"></span><span class="dot" style="left:57px"></span><span class="t pf" style="left:70px">10.1.0.22/31</span><span class="t" style="left:192px">IP Prefix</span><span class="mb A">Address</span><span class="t mem" style="left:360px;width:93px;text-align:right">2 members</span><div class="bar" style="width:96px"><i style="width:96px"></i></div><span class="pct">100%</span><span class="par" style="width:105px"><svg width="11" height="13" viewBox="0 0 12 14" style="vertical-align:-2px;color:#1f1f1f"><rect x="2" y="1" width="8" height="8" rx="1" fill="none" stroke="currentColor" stroke-width="1.4"/><path d="M4.7 7.5V3h2a1.2 1.2 0 010 2.5h-2" fill="none" stroke="currentColor" stroke-width="1.1"/><path d="M6 9v3M1 12.5h10" stroke="currentColor" stroke-width="1.4"/></svg> 10.1.0.0/16</span><span class="t" style="left:764px">-</span></div>

<div class="row" style="top:851px"><div class="cb"></div><span class="mb A">Address</span><span class="par" style="width:105px"> </span></div>

<div class="a" style="left:1290px;top:0;width:18px;height:858px;background:linear-gradient(to right,rgba(0,0,0,0),rgba(0,0,0,0.1))"></div>
</div>

<!-- DRAWER -->
<div class="a" style="left:1308px;top:0;width:398px;height:858px;background:#fff"></div>
<div class="a" style="left:1308px;top:0;width:398px;height:143px;background:#f7f8fa"></div>
<div class="a" style="left:1308px;top:143px;width:398px;height:97px;background:#e4e5ea"></div>

<div class="a" style="left:1324px;top:15px;width:58px;height:28px;border-radius:6px;background:#e2e9ef"></div>
<svg class="a" style="left:1332px;top:23px" width="11" height="12" viewBox="0 0 15 15"><path d="M7.5 1L14 4.5 7.5 8 1 4.5z" fill="#2a6f98"/><path d="M1 7.5l6.5 3.5L14 7.5M1 10.5L7.5 14 14 10.5" stroke="#2a6f98" stroke-width="1.6" fill="none"/></svg>
<div class="t" style="left:1347px;top:19px;font-size:13px;font-weight:bold;color:#2a6f98">main</div>
<div class="q" style="left:1665px;top:16px;width:27px;height:27px;line-height:25px;font-size:13px">?</div>

<div class="lbl" style="top:51px">IP Prefix</div>
<div class="t" style="left:1391px;top:51px;font-size:14px">›</div>
<div class="t" style="left:1409px;top:51px;font-size:15px">New</div>
<div class="lbl" style="top:82px;font-size:18px;font-weight:bold;line-height:22px;color:#111">Create IP Prefix</div>
<div class="lbl" style="top:107px">IPv6 or IPv4 prefix also referred as network</div>

<div class="lbl" style="top:163px">Select an object type</div>
<div class="inp" style="top:185px;height:38px">
  <div class="t" style="left:8px;top:8px">IP Prefix</div>
  <div class="ipam" style="top:7px">Ipam</div>
  <svg class="chev" width="8" height="12" viewBox="0 0 8 12"><path d="M1.5 4.5L4 2l2.5 2.5M1.5 7.5L4 10l2.5-2.5" fill="none" stroke="#888" stroke-width="1.1"/></svg>
</div>

<div class="lbl" style="top:254px">Prefix *</div>
<div class="inp" style="top:280px;height:40px"><div class="t" style="left:8px;top:9px;font-size:14px">10.100.0.0/24</div></div>

<div class="lbl" style="top:334px">Description</div>
<div class="inp" style="top:360px;height:40px"></div>

<div class="lbl" style="top:414px">Member Type</div>
<div class="inp" style="top:440px;height:40px;background:#edf5a8;border-color:#d6dcaa">
  <div class="t" style="left:8px;top:9px">Address</div>
  <svg class="chev" width="8" height="12" viewBox="0 0 8 12"><path d="M1.5 4.5L4 2l2.5 2.5M1.5 7.5L4 10l2.5-2.5" fill="none" stroke="#888" stroke-width="1.1"/></svg>
</div>

<div class="a" style="left:1324px;top:509px;width:16px;height:16px;border:1.5px solid #555;border-radius:3px;background:#fff"></div>
<div class="lbl" style="left:1348px;top:506px">Is Pool</div>
<div class="q" style="left:1400px;top:507px;width:18px;height:18px;line-height:16px;font-size:10px">?</div>

<div class="lbl" style="top:550px">IP Namespace</div>
<div class="lbl" style="top:573px;font-size:13px">Kind</div>
<div class="q" style="left:1358px;top:574px;width:18px;height:18px;line-height:16px;font-size:10px">?</div>
<div class="inp" style="top:596px;height:39px">
  <div class="t" style="left:8px;top:9px">IPAM Namespace</div>
  <div class="ipam" style="top:8px">Ipam</div>
  <svg class="chev" width="8" height="12" viewBox="0 0 8 12"><path d="M1.5 4.5L4 2l2.5 2.5M1.5 7.5L4 10l2.5-2.5" fill="none" stroke="#888" stroke-width="1.1"/></svg>
</div>
<div class="lbl" style="top:642px;font-size:12.5px">IPAM Namespace</div>
<div class="inp" style="top:672px;height:40px">
  <svg class="chev" width="8" height="12" viewBox="0 0 8 12"><path d="M1.5 4.5L4 2l2.5 2.5M1.5 7.5L4 10l2.5-2.5" fill="none" stroke="#888" stroke-width="1.1"/></svg>
</div>
<div class="lbl" style="top:726px">Member Of Groups</div>
<div class="inp" style="top:752px;height:39px">
  <svg class="chev" width="8" height="12" viewBox="0 0 8 12"><path d="M1.5 4.5L4 2l2.5 2.5M1.5 7.5L4 10l2.5-2.5" fill="none" stroke="#888" stroke-width="1.1"/></svg>
</div>

<div class="a" style="left:1537px;top:808px;width:79px;height:36px;border:1px solid #dcdcdc;border-radius:6px;background:#fff;text-align:center;line-height:34px;font-size:15px;color:#111">Cancel</div>
<div class="a" style="left:1625px;top:808px;width:67px;height:36px;border-radius:6px;background:#236891;text-align:center;line-height:36px;font-size:15px;color:#fff">Save</div>

</div></body></html>
